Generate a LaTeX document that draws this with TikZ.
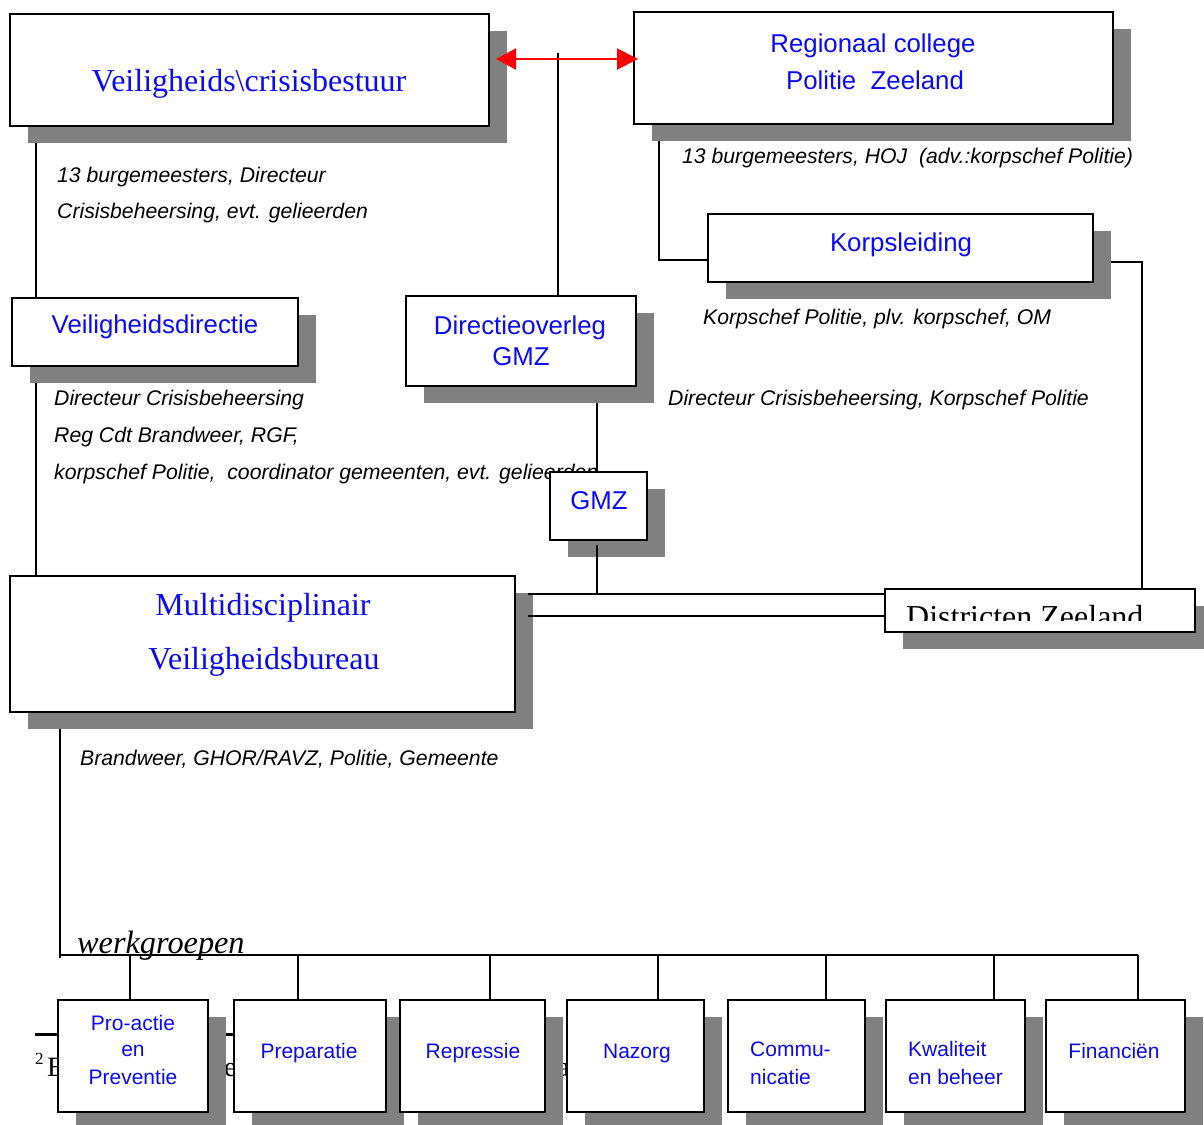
\documentclass[tikz,border=0pt]{standalone}
\usepackage{fontspec}
\setmainfont{Liberation Serif}
\setsansfont{Liberation Sans}
\usetikzlibrary{arrows.meta}
\definecolor{shadowgray}{RGB}{128,128,128}
\definecolor{tblue}{RGB}{10,10,250}
\newcommand\mkbox[5]{%
  \pgfmathsetmacro\bw{#4-#2}\pgfmathsetmacro\bh{#5-#3}%
  \node[shad, minimum width=\bw pt, minimum height=\bh pt] (#1s) at (#2+18,#3+17) {};
  \node[box, minimum width=\bw pt, minimum height=\bh pt] (#1) at (#2,#3) {};}
\tikzset{
  box/.style={draw=black, line width=1.6pt, fill=white, anchor=north west, inner sep=0pt, outer sep=0pt},
  shad/.style={fill=shadowgray, anchor=north west, inner sep=0pt, outer sep=0pt},
  sl/.style={font=\sffamily\fontsize{25.8}{30}\selectfont, text=tblue, inner sep=0pt, anchor=mid},
  sls/.style={font=\sffamily\fontsize{21}{25}\selectfont, text=tblue, inner sep=0pt, anchor=mid},
  ann/.style={font=\sffamily\itshape\fontsize{21.2}{24}\selectfont, inner sep=0pt, anchor=mid west},
  rl/.style={font=\rmfamily\fontsize{32}{36}\selectfont, text=tblue, inner sep=0pt, anchor=mid},
  conn/.style={line width=1.3pt},
}
\begin{document}
\begin{tikzpicture}[x=1pt,y=-1pt]
\useasboundingbox[fill=white] (0,0) rectangle (1204,1124);

% footnote fragments (behind everything)
\draw[line width=3pt] (35,1034) -- (250,1034) coordinate (fnr);
\node[font=\rmfamily\fontsize{17}{20}\selectfont, inner sep=0pt, anchor=base west] (fn2) at (35,1064) {2};
\node[font=\rmfamily\fontsize{28}{32}\selectfont, inner sep=0pt, anchor=base west] (fnE) at (47,1076) {E};
\node[font=\rmfamily\fontsize{28}{32}\selectfont, inner sep=0pt, anchor=base west] (fne) at (224,1076) {e};
\node[font=\rmfamily\fontsize{28}{32}\selectfont, inner sep=0pt, anchor=base west] (fna) at (557,1076) {a};

% annotations
\node[ann] (t1) at (57,180) {13 burgemeesters, Directeur};
\node[ann] (t2) at (57,216) {Crisisbeheersing, evt. gelieerden};
\node[ann] (t3) at (682,161) {13 burgemeesters, HOJ\ \ (adv.:korpschef Politie)};
\node[ann] (t4) at (703,322) {Korpschef Politie, plv. korpschef, OM};
\node[ann] (t5) at (54,403) {Directeur Crisisbeheersing};
\node[ann] (t6) at (54,440) {Reg Cdt Brandweer, RGF,};
\node[ann] (t7) at (54,477) {korpschef Politie,\ \ coordinator gemeenten, evt. gelieerden};
\node[ann] (t8) at (668,403) {Directeur Crisisbeheersing, Korpschef Politie};
\node[ann] (t9) at (80,763) {Brandweer, GHOR/RAVZ, Politie, Gemeente};
\node[font=\rmfamily\itshape\fontsize{32.3}{36}\selectfont, inner sep=0pt, anchor=mid west] (wg) at (77,951) {werkgroepen};

% boxes
\mkbox{A}{10}{14}{489}{126}
\mkbox{B}{634}{12}{1113}{124}
\mkbox{K}{708}{214}{1093}{282}
\mkbox{V}{12}{298}{298}{366}
\mkbox{D}{406}{296}{636}{386}
\mkbox{G}{550}{472}{647}{540}
\mkbox{M}{10}{576}{515}{712}
\mkbox{Z}{885}{589}{1195}{632}
\mkbox{w1}{58}{1000}{208}{1112}
\mkbox{w2}{234}{1000}{386}{1112}
\mkbox{w3}{400}{1000}{545}{1112}
\mkbox{w4}{567}{1000}{704}{1112}
\mkbox{w5}{728}{1000}{865}{1112}
\mkbox{w6}{886}{1000}{1025}{1112}
\mkbox{w7}{1046}{1000}{1185}{1112}

% box labels
\node[rl] (lA) at (249,89) {Veiligheids\textbackslash crisisbestuur};
\node[sl] (lB1) at (873,50) {Regionaal college};
\node[sl] (lB2) at (875,87) {Politie\ \ Zeeland};
\node[sl] (lK) at (901,249) {Korpsleiding};
\node[sl] (lV) at (155,331) {Veiligheidsdirectie};
\node[sl] (lD1) at (520,332) {Directieoverleg};
\node[sl] (lD2) at (521,363) {GMZ};
\node[sl] (lG) at (599,507) {GMZ};
\node[rl] (lM1) at (263,613) {Multidisciplinair};
\node[rl] (lM2) at (264,667) {Veiligheidsbureau};
\begin{scope}
  \clip (887,591) rectangle (1193,620);
  \node[font=\rmfamily\fontsize{32}{36}\selectfont, inner sep=0pt, anchor=base west] (lZ) at (906,627) {Districten Zeeland};
\end{scope}
\node[sls] (l11) at (133,1028) {Pro-actie};
\node[sls] (l12) at (133,1054) {en};
\node[sls] (l13) at (133,1082) {Preventie};
\node[sls] (l2) at (309,1056) {Preparatie};
\node[sls] (l3) at (473,1056) {Repressie};
\node[sls] (l4) at (637,1056) {Nazorg};
\node[sls, anchor=mid west] (l51) at (750,1054) {Commu-};
\node[sls, anchor=mid west] (l52) at (750,1082) {nicatie};
\node[sls, anchor=mid west] (l61) at (908,1054) {Kwaliteit};
\node[sls, anchor=mid west] (l62) at (908,1082) {en beheer};
\node[sls] (l7) at (1114,1056) {Financiën};

% connectors
\draw[conn] (36,0 |- As.south) -- (36,0 |- V.north);
\draw[conn] (36,0 |- Vs.south) -- (36,0 |- M.north);
\coordinate (redtop) at (558,53);
\draw[conn] (redtop) -- (558,0 |- D.north);
\coordinate (redL) at (496,59);
\coordinate (redR) at (638,59);
\draw[red, line width=2pt, {Triangle[length=20pt,width=21pt]}-{Triangle[length=21pt,width=21pt]}] (redL) -- (redR);
\draw[conn] (659,0 |- Bs.south) |- (K.west |- 0,260);
\draw[conn] (Ks.east |- 0,262) -| (1142,0 |- Z.north);
\draw[conn] (597,0 |- Ds.south) -- (597,0 |- G.north);
\draw[conn] (597,545) -- (597,594);
\coordinate (dl1) at (528,594);
\coordinate (dl2) at (528,616);
\draw[conn] (dl1) -- (dl1 -| Z.west);
\draw[conn] (dl2) -- (dl2 -| Z.west);
\coordinate (wbar) at (60,955);
\draw[conn] (60,0 |- Ms.south) -- (60,958);
\draw[conn] (wbar) -- (1138,955);
\foreach \xx/\nn in {130/w1,298/w2,490/w3,658/w4,826/w5,994/w6,1138/w7}
  \draw[conn] (\xx,955) -- (\xx,0 |- \nn.north);
\end{tikzpicture}
\end{document}
